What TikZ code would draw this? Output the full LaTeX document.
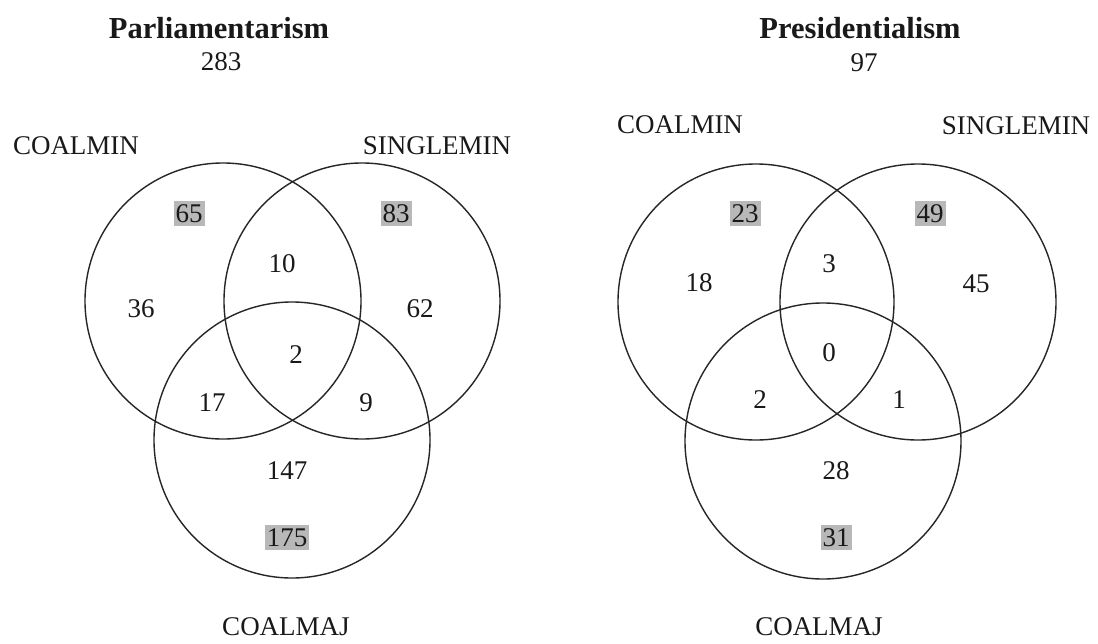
\documentclass[tikz,border=0pt]{standalone}
\usepackage{fontspec}
\setmainfont{Liberation Serif}
\begin{document}
\begin{tikzpicture}[x=1pt,y=-1pt,
  setcircle/.style={circle,draw=black!85,line width=1.4pt,minimum size=276pt,inner sep=0pt},
  lbl/.style={anchor=base,inner sep=0pt,font=\fontsize{27}{30}\selectfont,text=black!90},
  num/.style={anchor=base,inner sep=0pt,font=\fontsize{27}{30}\selectfont,text=black!90},
  hl/.style={num,fill=black!28,inner xsep=2pt,inner ysep=3.5pt,text depth=0pt},
  ttl/.style={anchor=base,inner sep=0pt,font=\fontsize{30.5}{34}\selectfont\bfseries,text=black!90}]
\useasboundingbox[fill=white] (0,0) rectangle (1098,643);
% ---------- Parliamentarism ----------
\node[setcircle] (lA) at (223,301) {};
\node[setcircle] (lB) at (362,301) {};
\node[setcircle] (lC) at (292,440) {};
\node[ttl] (lT) at (219,38) {Parliamentarism};
\node[num] (lN) at (221,70) {283};
\node[lbl] (lAl) at (76,154) {COALMIN};
\node[lbl] (lBl) at (437,154) {SINGLEMIN};
\node[lbl] (lCl) at (286,635) {COALMAJ};
\node[hl] (l65) at (189,222) {65};
\node[hl] (l83) at (396,222) {83};
\node[num] (l10) at (282,272) {10};
\node[num] (l36) at (141,317) {36};
\node[num] (l62) at (420,317) {62};
\node[num] (l2) at (296,363) {2};
\node[num] (l17) at (212,411) {17};
\node[num] (l9) at (366,411) {9};
\node[num] (l147) at (287,479) {147};
\node[hl] (l175) at (287,546) {175};
% ---------- Presidentialism ----------
\node[setcircle] (rA) at (756,302) {};
\node[setcircle] (rB) at (918,302) {};
\node[setcircle] (rC) at (823,441) {};
\node[ttl] (rT) at (860,38) {Presidentialism};
\node[num] (rN) at (864,71) {97};
\node[lbl] (rAl) at (680,133) {COALMIN};
\node[lbl] (rBl) at (1016,134) {SINGLEMIN};
\node[lbl] (rCl) at (819,635) {COALMAJ};
\node[hl] (r23) at (745,222) {23};
\node[hl] (r49) at (930,222) {49};
\node[num] (r18) at (699,291) {18};
\node[num] (r3) at (829,272) {3};
\node[num] (r45) at (976,292) {45};
\node[num] (r0) at (829,361) {0};
\node[num] (r2) at (760,408) {2};
\node[num] (r1) at (899,408) {1};
\node[num] (r28) at (836,479) {28};
\node[hl] (r31) at (836,546) {31};
\end{tikzpicture}
\end{document}
